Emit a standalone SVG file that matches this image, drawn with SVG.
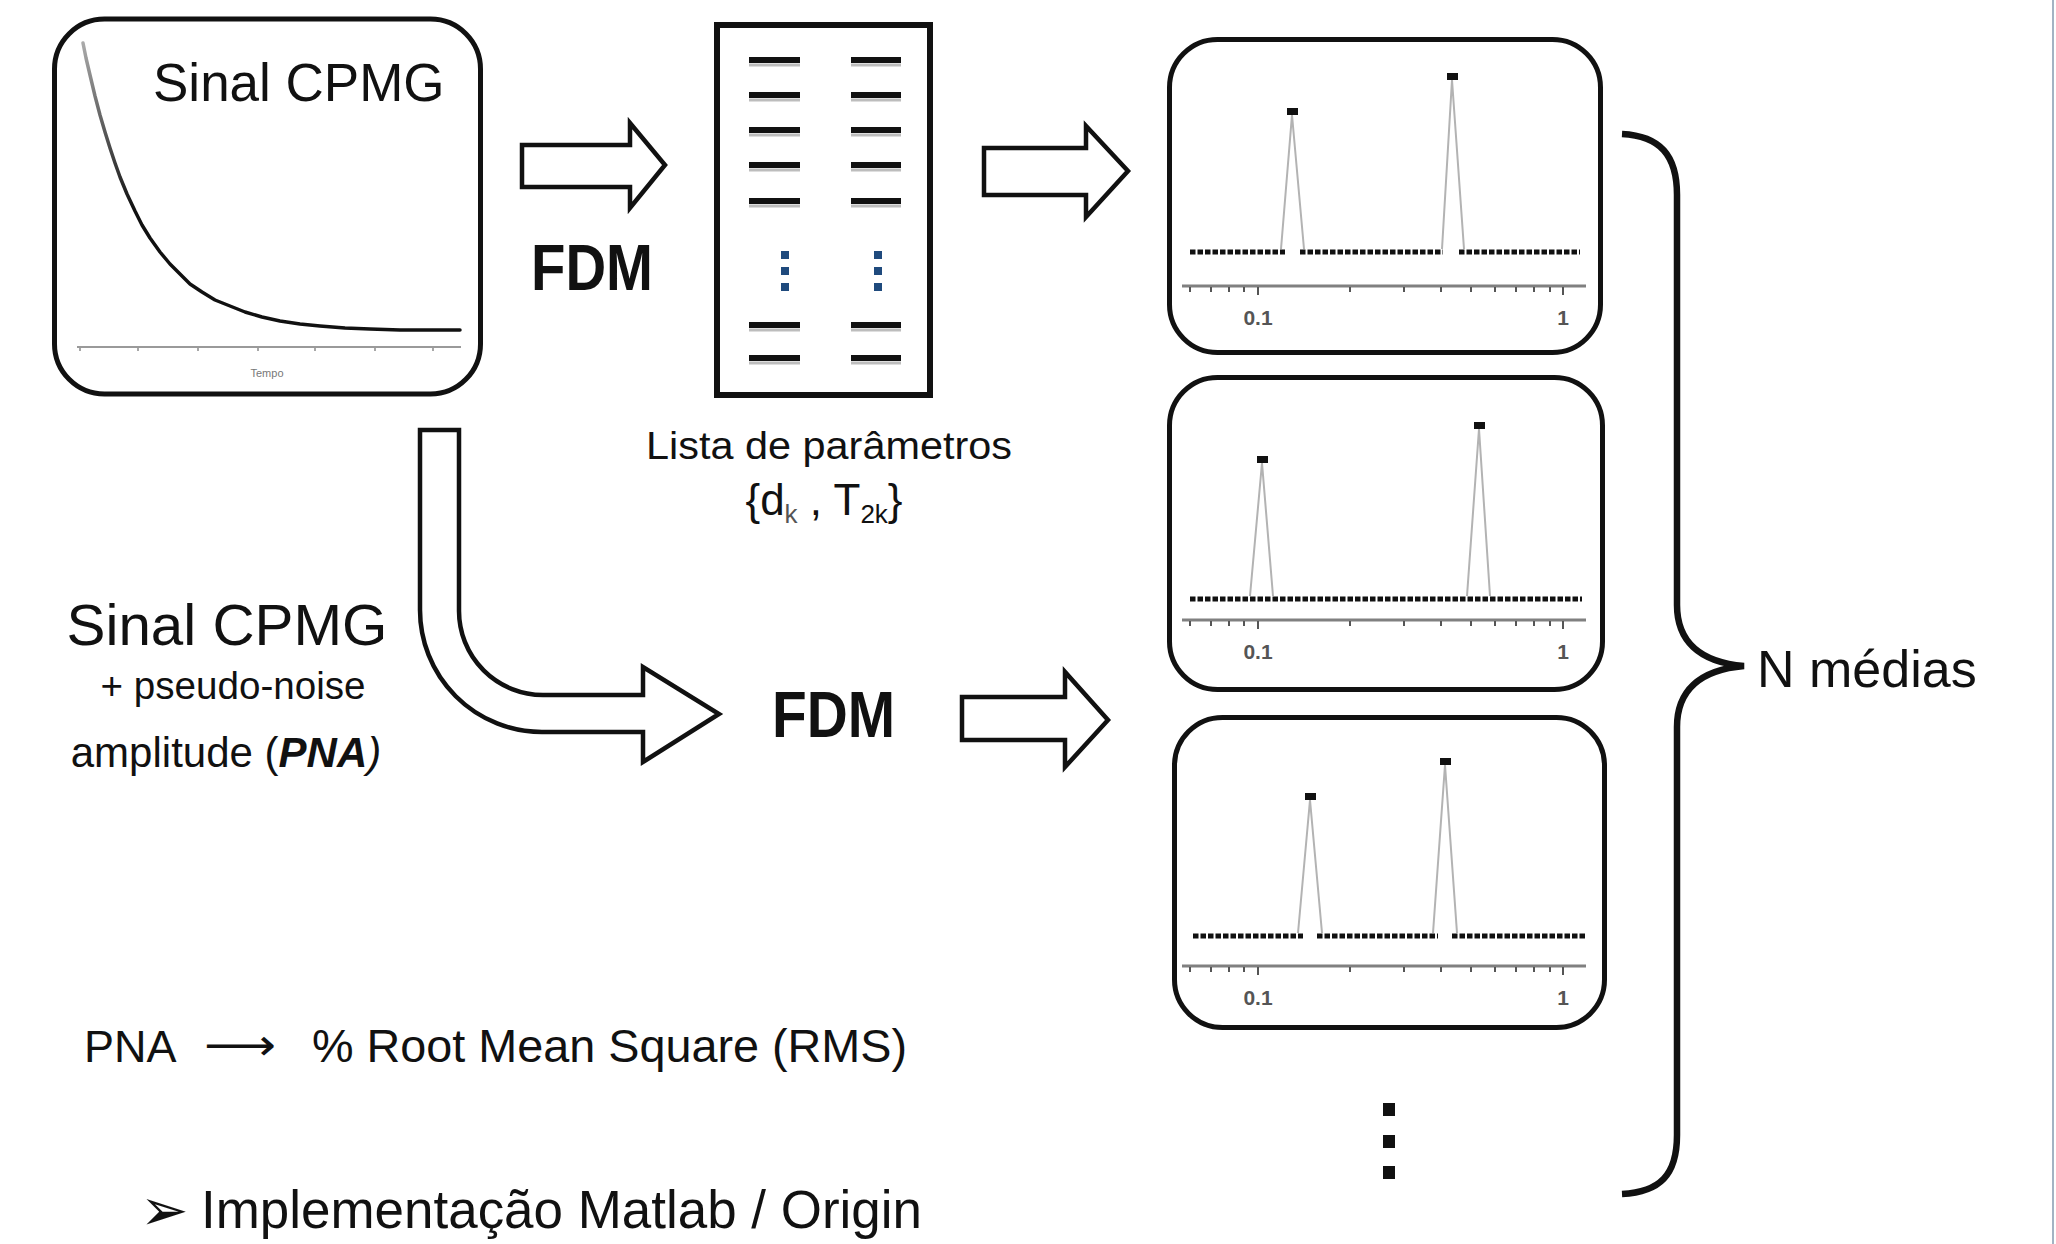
<svg xmlns="http://www.w3.org/2000/svg" width="2056" height="1244" viewBox="0 0 2056 1244">
  <defs>
    <style>
      .t { font-family: "Liberation Sans", Arial, Helvetica, sans-serif; fill: #111; }
      .b { font-weight: bold; }
      .frame { fill: #fff; stroke: #111; stroke-width: 5; }
      .block { fill: #fff; stroke: #111; stroke-width: 4.5; stroke-linejoin: miter; }
      .dash { stroke: #111; stroke-width: 6; }
      .dash-sh { stroke: #bdbdbd; stroke-width: 3; }
      .dot { fill: #1f4a7d; }
      .base { stroke: #111; stroke-width: 5; stroke-dasharray: 5.5 2; fill: none; }
      .peak { stroke: #b3b3b3; stroke-width: 2; fill: none; }
      .mark { fill: #111; }
      .axis { stroke: #808080; stroke-width: 3; }
      .tick { stroke: #555; stroke-width: 2; }
      .lbl { font-family: "Liberation Sans", Arial, sans-serif; font-weight: bold; font-size: 21px; fill: #555; text-anchor: middle; }
    </style>
    <linearGradient id="decayInk" gradientUnits="userSpaceOnUse" x1="0" y1="43" x2="0" y2="210">
      <stop offset="0" stop-color="#aaaaaa"/>
      <stop offset="1" stop-color="#111111"/>
    </linearGradient>
    <!-- logarithmic T2 axis shared by the three distribution plots -->
    <g id="logaxis">
      <line class="axis" x1="1182" y1="0" x2="1586" y2="0"/>
      <g class="tick">
        <line x1="1190" y1="1" x2="1190" y2="6"/>
        <line x1="1211" y1="1" x2="1211" y2="6"/>
        <line x1="1229" y1="1" x2="1229" y2="6"/>
        <line x1="1244" y1="1" x2="1244" y2="6"/>
        <line x1="1258" y1="1" x2="1258" y2="9"/>
        <line x1="1350" y1="1" x2="1350" y2="6"/>
        <line x1="1404" y1="1" x2="1404" y2="6"/>
        <line x1="1441" y1="1" x2="1441" y2="6"/>
        <line x1="1471" y1="1" x2="1471" y2="6"/>
        <line x1="1495" y1="1" x2="1495" y2="6"/>
        <line x1="1516" y1="1" x2="1516" y2="6"/>
        <line x1="1534" y1="1" x2="1534" y2="6"/>
        <line x1="1550" y1="1" x2="1550" y2="6"/>
        <line x1="1563" y1="1" x2="1563" y2="9"/>
      </g>
      <text class="lbl" x="1258" y="39">0.1</text>
      <text class="lbl" x="1563" y="39">1</text>
    </g>
  </defs>

  <rect width="2056" height="1244" fill="#fff"/>
  <rect x="2052" y="0" width="2" height="1244" fill="#a3b3c3"/>

  <!-- CPMG decay signal -->
  <g id="cpmg-signal">
    <rect class="frame" x="54.5" y="19" width="426" height="375" rx="50" ry="50"/>
    <text class="t" x="153" y="101" font-size="53">Sinal CPMG</text>
    <polyline fill="none" stroke="url(#decayInk)" stroke-width="3.5" stroke-linejoin="round" stroke-linecap="round"
      points="83,43 86,58 90,75 95,96 100,115 105,132 110,148 115,163 120,177 127,194 135,211 142,225 150,238 160,252 170,264 180,274 190,284 202,292 215,300 230,306 245,312 262,317 280,321 300,324 320,326 345,328 370,329 400,330 430,330 460,330"/>
    <line x1="77" y1="347" x2="461" y2="347" stroke="#9a9a9a" stroke-width="2"/>
    <g stroke="#8a8a8a" stroke-width="1.5">
      <line x1="80" y1="348" x2="80" y2="351"/>
      <line x1="138" y1="348" x2="138" y2="351"/>
      <line x1="198" y1="348" x2="198" y2="351"/>
      <line x1="258" y1="348" x2="258" y2="351"/>
      <line x1="315" y1="348" x2="315" y2="351"/>
      <line x1="375" y1="348" x2="375" y2="351"/>
      <line x1="433" y1="348" x2="433" y2="351"/>
    </g>
    <text class="t" x="267" y="377" font-size="11" style="fill:#777" text-anchor="middle">Tempo</text>
  </g>

  <!-- parameter list {dk, T2k} -->
  <g id="param-list">
    <rect x="717" y="25" width="213" height="370" fill="#fff" stroke="#111" stroke-width="6"/>
    <g class="dash-sh">
      <line x1="749" y1="65" x2="800" y2="65"/><line x1="851" y1="65" x2="901" y2="65"/>
      <line x1="749" y1="100" x2="800" y2="100"/><line x1="851" y1="100" x2="901" y2="100"/>
      <line x1="749" y1="135" x2="800" y2="135"/><line x1="851" y1="135" x2="901" y2="135"/>
      <line x1="749" y1="170" x2="800" y2="170"/><line x1="851" y1="170" x2="901" y2="170"/>
      <line x1="749" y1="206" x2="800" y2="206"/><line x1="851" y1="206" x2="901" y2="206"/>
      <line x1="749" y1="330" x2="800" y2="330"/><line x1="851" y1="330" x2="901" y2="330"/>
      <line x1="749" y1="363" x2="800" y2="363"/><line x1="851" y1="363" x2="901" y2="363"/>
    </g>
    <g class="dash">
      <line x1="749" y1="60" x2="800" y2="60"/><line x1="851" y1="60" x2="901" y2="60"/>
      <line x1="749" y1="95" x2="800" y2="95"/><line x1="851" y1="95" x2="901" y2="95"/>
      <line x1="749" y1="130" x2="800" y2="130"/><line x1="851" y1="130" x2="901" y2="130"/>
      <line x1="749" y1="165" x2="800" y2="165"/><line x1="851" y1="165" x2="901" y2="165"/>
      <line x1="749" y1="201" x2="800" y2="201"/><line x1="851" y1="201" x2="901" y2="201"/>
      <line x1="749" y1="325" x2="800" y2="325"/><line x1="851" y1="325" x2="901" y2="325"/>
      <line x1="749" y1="358" x2="800" y2="358"/><line x1="851" y1="358" x2="901" y2="358"/>
    </g>
    <g class="dot">
      <rect x="781" y="251" width="8" height="8"/><rect x="874" y="251" width="8" height="8"/>
      <rect x="781" y="267" width="8" height="8"/><rect x="874" y="267" width="8" height="8"/>
      <rect x="781" y="283" width="8" height="8"/><rect x="874" y="283" width="8" height="8"/>
    </g>
    <text class="t" x="829" y="459" font-size="38" text-anchor="middle" textLength="366" lengthAdjust="spacingAndGlyphs">Lista de parâmetros</text>
    <text class="t" x="824" y="515" font-size="44" text-anchor="middle">{d<tspan font-size="26" dy="8" style="fill:#555">k</tspan><tspan dy="-8"> , T</tspan><tspan font-size="26" dy="8">2k</tspan><tspan dy="-8">}</tspan></text>
  </g>

  <!-- distribution from the clean signal -->
  <g id="dist-1">
    <rect class="frame" x="1169.5" y="39.5" width="431" height="313" rx="48" ry="48"/>
    <path class="peak" d="M1281,249 L1292,115 L1304,249 M1442,249 L1452,80 L1464,249"/>
    <path class="base" d="M1190,252 H1285 M1300,252 H1443 M1459,252 H1580"/>
    <rect class="mark" x="1287" y="108" width="11" height="7"/>
    <rect class="mark" x="1447" y="73" width="11" height="7"/>
    <use href="#logaxis" transform="translate(0,286)"/>
  </g>

  <!-- distribution from noisy realisation 1 -->
  <g id="dist-2">
    <rect class="frame" x="1169.5" y="377.5" width="433" height="312" rx="48" ry="48"/>
    <path class="peak" d="M1250,596 L1262,463 L1273,596 M1467,596 L1479,429 L1490,596"/>
    <path class="base" d="M1190,599 H1582"/>
    <rect class="mark" x="1257" y="456" width="11" height="7"/>
    <rect class="mark" x="1474" y="422" width="11" height="7"/>
    <use href="#logaxis" transform="translate(0,620)"/>
  </g>

  <!-- distribution from noisy realisation 2 -->
  <g id="dist-3">
    <rect class="frame" x="1174.5" y="717.5" width="430" height="310" rx="48" ry="48"/>
    <path class="peak" d="M1298,933 L1310,800 L1322,933 M1433,933 L1445,765 L1457,933"/>
    <path class="base" d="M1193,936 H1303 M1317,936 H1438 M1452,936 H1585"/>
    <rect class="mark" x="1305" y="793" width="11" height="7"/>
    <rect class="mark" x="1440" y="758" width="11" height="7"/>
    <use href="#logaxis" transform="translate(0,966)"/>
  </g>

  <!-- more realisations -->
  <g id="ellipsis">
    <rect x="1383" y="1103" width="12" height="13" fill="#111"/>
    <rect x="1383" y="1135" width="12" height="13" fill="#111"/>
    <rect x="1383" y="1166" width="12" height="13" fill="#111"/>
  </g>

  <!-- noisy input description -->
  <g id="noisy-signal">
    <text class="t" x="227" y="645" font-size="58" text-anchor="middle" textLength="321" lengthAdjust="spacingAndGlyphs">Sinal CPMG</text>
    <text class="t" x="233" y="699" font-size="38" text-anchor="middle" textLength="265" lengthAdjust="spacingAndGlyphs">+ pseudo-noise</text>
    <text class="t" x="226" y="767" font-size="42" text-anchor="middle">amplitude (<tspan class="b" font-style="italic">PNA</tspan><tspan font-style="italic">)</tspan></text>
  </g>

  <g id="mean-label">
    <text class="t" x="1757" y="687" font-size="52">N médias</text>
  </g>

  <g id="notes">
    <text class="t" x="84" y="1062" font-size="45">PNA</text>
    <text x="204" y="1060" font-size="44" font-family="DejaVu Sans, sans-serif" fill="#111" textLength="72" lengthAdjust="spacingAndGlyphs">⟶</text>
    <text class="t" x="312" y="1062" font-size="46" textLength="595" lengthAdjust="spacingAndGlyphs">% Root Mean Square (RMS)</text>
    <text x="140" y="1230" font-size="58" font-family="DejaVu Sans, sans-serif" fill="#111">➢</text>
    <text class="t" x="201" y="1228" font-size="53" textLength="721" lengthAdjust="spacingAndGlyphs">Implementação Matlab / Origin</text>
  </g>

  <!-- connectors -->
  <g id="connectors">
    <path class="block" d="M522,145 H630 V123 L665,165 L630,208 V187 H522 Z"/>
    <text class="t b" x="531" y="290" font-size="64" textLength="122" lengthAdjust="spacingAndGlyphs">FDM</text>
    <path class="block" d="M984,148 H1086 V126 L1128,171 L1086,217 V195 H984 Z"/>
    <path class="block" d="M420,430 H459 V611 A84,84 0 0 0 543,695 H643 V667 L719,714 L643,762 V732 H542 A122,122 0 0 1 420,610 Z"/>
    <text class="t b" x="772" y="737" font-size="64" textLength="123" lengthAdjust="spacingAndGlyphs">FDM</text>
    <path class="block" d="M962,697 H1065 V672 L1108,720 L1065,767 V740 H962 Z"/>
    <path d="M1622,134 C1660,136 1677,155 1677,195 L1677,605 C1677,640 1698,662 1744,666 C1698,670 1677,692 1677,727 L1677,1135 C1677,1175 1660,1192 1622,1194" fill="none" stroke="#111" stroke-width="6.5"/>
  </g>
</svg>
